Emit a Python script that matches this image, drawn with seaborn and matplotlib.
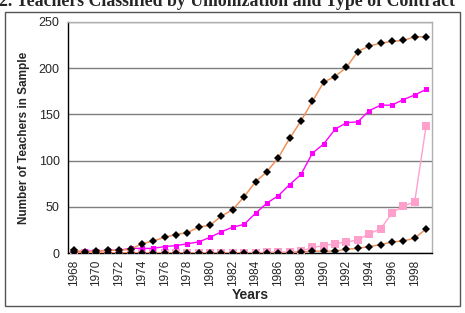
import matplotlib
matplotlib.use('Agg')
import matplotlib.pyplot as plt
import matplotlib.patches as mpatches
import seaborn as sns
import pandas as pd
import numpy as np

# values
years = list(range(1968, 2000))
top_series = [3, 1, 2, 3, 3, 4, 10, 13, 17, 20, 22, 28, 30, 40, 47, 61,
              77, 88, 103, 124, 143, 164, 185, 191, 201, 218, 224, 227,
              229, 230, 234, 234]
magenta_series = [1, 2, 2, 3, 3, 5, 5, 5, 7, 8, 10, 12, 17, 23, 28, 31,
                  43, 54, 62, 74, 85, 108, 118, 134, 141, 142, 154, 160,
                  160, 166, 171, 177]
pink_series = [0, 0, 0, 0, 0, 0, 0, 0, 0, 0, 0, 0, 0, 0, 0, 0,
               0, 1, 1, 1, 2, 6, 8, 10, 12, 14, 21, 26, 43, 51, 55, 137]
bottom_series = [1, 0, 0, 0, 0, 0, 0, 0, 0, 0, 0, 0, 0, 0, 0, 0,
                 0, 0, 0, 0, 1, 2, 2, 2, 4, 5, 7, 9, 12, 13, 16, 26]
tick_years = list(range(1968, 1999, 2))

df = pd.DataFrame({'Year': years, 'top': top_series, 'magenta': magenta_series,
                   'pink': pink_series, 'bottom': bottom_series})

sns.set_style('white')
plt.rcParams['font.family'] = ['Liberation Sans', 'DejaVu Sans']

W, H = 465, 313
fig = plt.figure(figsize=(W / 100, H / 100), dpi=100)
ax = fig.add_axes([68 / W, 1 - 253 / H, (431.7 - 68) / W, (253 - 22) / H])

# outer chart frame
fig.patches.append(mpatches.Rectangle((5 / W, 1 - 306 / H), 455 / W, 294 / H,
                                      transform=fig.transFigure, fill=False,
                                      edgecolor='#555555', lw=1.0))

orange = '#F0925A'
sns.lineplot(data=df, x='Year', y='pink', ax=ax, color='#FFA0CC', lw=1,
             marker='s', markersize=5.5, markeredgewidth=0, zorder=3)
sns.lineplot(data=df, x='Year', y='magenta', ax=ax, color='#FF00FF', lw=1,
             marker='s', markersize=3.6, markeredgewidth=0, zorder=4)
sns.lineplot(data=df, x='Year', y='top', ax=ax, color=orange, lw=1.1,
             marker='D', markersize=3.6, markerfacecolor='black',
             markeredgecolor='black', markeredgewidth=0, zorder=5)
sns.lineplot(data=df, x='Year', y='bottom', ax=ax, color=orange, lw=1.1,
             marker='D', markersize=3.6, markerfacecolor='black',
             markeredgecolor='black', markeredgewidth=0, zorder=5)

ax.set_xlim(1967.5, 1999.5)
ax.set_ylim(0, 250)
ax.set_yticks(range(0, 251, 50))
ax.set_xticks(tick_years)
ax.set_xticklabels([str(y) for y in tick_years], rotation=90, fontsize=8.5)
ax.set_xticks(np.arange(1967.5, 2000, 1), minor=True)
ax.tick_params(axis='x', which='major', length=0, pad=5)
ax.tick_params(axis='x', which='minor', length=4, width=0.8, color='black',
               direction='out')
ax.tick_params(axis='y', length=4, width=0.8, color='black', direction='out',
               labelsize=9, pad=2)
ax.yaxis.grid(True, color='#7f7f7f', lw=1)
ax.set_axisbelow(True)

for side in ['top', 'right']:
    ax.spines[side].set_color('#b0b0b0')
    ax.spines[side].set_linewidth(1)
for side in ['left', 'bottom']:
    ax.spines[side].set_color('black')
    ax.spines[side].set_linewidth(1)

ax.set_xlabel('Years', fontsize=10, fontweight='bold', labelpad=1)
ax.set_ylabel('Number of Teachers in Sample', fontsize=8.5, fontweight='bold',
              labelpad=6)

# title is cut off by the top edge in the reference
fig.text(-0.002, 1 - 6.5 / H, '2. Teachers Classified by Unionization and Type of Contract',
         fontsize=12.8, fontweight='bold', family=['Liberation Serif', 'DejaVu Serif'],
         ha='left', va='baseline')

fig.savefig('out.png', dpi=100)
